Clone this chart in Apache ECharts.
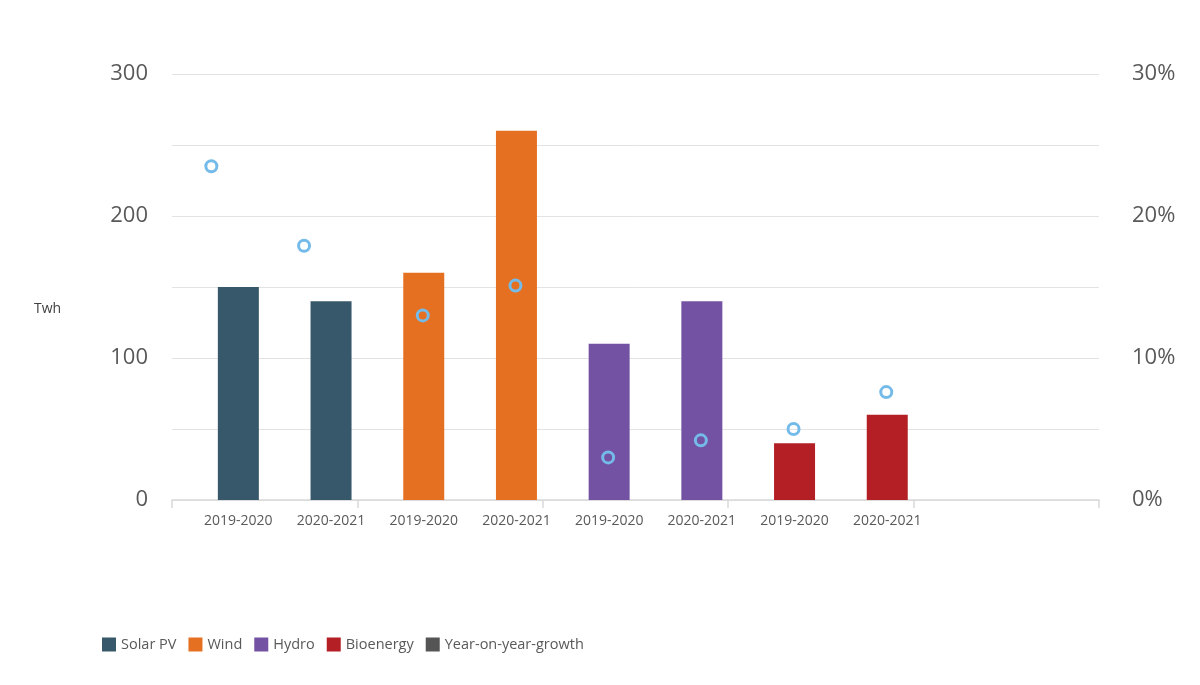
<!DOCTYPE html>
<html>
<head>
<meta charset="utf-8">
<script src="https://cdn.jsdelivr.net/npm/echarts@6/dist/echarts.min.js"></script>
<style>
  html, body { margin: 0; padding: 0; background: #ffffff; }
  #chart { width: 1200px; height: 685px; }
</style>
</head>
<body>
<div id="chart"></div>
<script>
// ---- data ----
const categories = ['2019-2020', '2020-2021', '2019-2020', '2020-2021', '2019-2020', '2020-2021', '2019-2020', '2020-2021', '', ''];
const solarPV   = [150, 140, null, null, null, null, null, null, null, null];
const wind      = [null, null, 160, 260, null, null, null, null, null, null];
const hydro     = [null, null, null, null, 110, 140, null, null, null, null];
const bioenergy = [null, null, null, null, null, null, 40, 60, null, null];
// year-on-year growth (fraction), one per bar
const growthSolar = [0.235, 0.179, null, null, null, null, null, null, null, null];
const growthOther = [null, null, 0.130, 0.151, 0.030, 0.042, 0.050, 0.076, null, null];
const leftTicks = [0, 100, 200, 300];
const rightTicks = ['0%', '10%', '20%', '30%'];

const FONT = '"Open Sans", "Noto Sans", sans-serif';
const TXT = '#595959';

const chart = echarts.init(document.getElementById('chart'), null, { renderer: 'canvas' });

const barCommon = (name, data, color) => ({
  name: name,
  type: 'bar',
  stack: 'main',
  data: data,
  barWidth: 41,
  barGap: '0%',
  itemStyle: { color: color },
  z: 2
});

const dotStyle = {
  color: 'rgba(0,0,0,0)',
  borderColor: '#74bbea',
  borderWidth: 3,
  opacity: 1
};

chart.setOption({
  animation: false,
  backgroundColor: '#ffffff',
  title: {
    text: 'Twh',
    left: 29,
    top: 297,
    textStyle: { fontFamily: FONT, fontSize: 14, fontWeight: 'normal', color: '#404040' }
  },
  grid: { left: 172, right: 101, top: 74, bottom: 185, containLabel: false },
  legend: {
    left: 102,
    top: 637,
    padding: 0,
    itemWidth: 14,
    itemHeight: 14,
    itemGap: 12,
    textStyle: { fontFamily: FONT, fontSize: 14.5, color: TXT },
    data: [
      { name: 'Solar PV', icon: 'rect' },
      { name: 'Wind', icon: 'rect' },
      { name: 'Hydro', icon: 'rect' },
      { name: 'Bioenergy', icon: 'rect' },
      { name: 'Year-on-year-growth', icon: 'rect', itemStyle: { color: '#555555', borderWidth: 0, opacity: 1 } }
    ]
  },
  xAxis: {
    type: 'category',
    data: categories,
    boundaryGap: true,
    axisLine: { lineStyle: { color: '#d9d9d9', width: 1.5 } },
    axisTick: { show: true, interval: idx => idx % 2 === 0, length: 8, lineStyle: { color: '#d9d9d9', width: 1.5 } },
    axisLabel: {
      interval: 0,
      fontFamily: FONT,
      fontSize: 14,
      color: TXT,
      margin: 14,
      padding: [0, 0, 0, 40]
    },
    splitLine: { show: false }
  },
  yAxis: [
    {
      type: 'value',
      min: 0,
      max: 300,
      interval: 50,
      axisLine: { show: false },
      axisTick: { show: false },
      splitLine: { lineStyle: { color: '#e3e3e3', width: 1 } },
      axisLabel: {
        fontFamily: FONT,
        fontSize: 22,
        color: TXT,
        margin: 24,
        formatter: v => (leftTicks.indexOf(v) >= 0 ? String(v) : '')
      }
    },
    {
      type: 'value',
      min: 0,
      max: 0.3,
      interval: 0.05,
      position: 'right',
      axisLine: { show: false },
      axisTick: { show: false },
      splitLine: { show: false },
      axisLabel: {
        fontFamily: FONT,
        fontSize: 22,
        color: TXT,
        margin: 33,
        formatter: v => {
          const p = Math.round(v * 100);
          return p % 10 === 0 ? rightTicks[p / 10] : '';
        }
      }
    }
  ],
  series: [
    { name: '__pad', type: 'bar', data: [], barWidth: 40, barGap: '0%', silent: true },
    barCommon('Solar PV', solarPV, '#37586a'),
    barCommon('Wind', wind, '#e67022'),
    barCommon('Hydro', hydro, '#7452a3'),
    barCommon('Bioenergy', bioenergy, '#b31f24'),
    {
      name: 'Year-on-year-growth',
      type: 'scatter',
      yAxisIndex: 1,
      data: growthSolar,
      symbol: 'circle',
      symbolSize: 11,
      symbolOffset: [-7, 0],
      itemStyle: dotStyle,
      z: 5
    },
    {
      name: 'Year-on-year-growth',
      type: 'scatter',
      yAxisIndex: 1,
      data: growthOther,
      symbol: 'circle',
      symbolSize: 11,
      symbolOffset: [19, 0],
      itemStyle: dotStyle,
      z: 5
    }
  ]
});
</script>
</body>
</html>
